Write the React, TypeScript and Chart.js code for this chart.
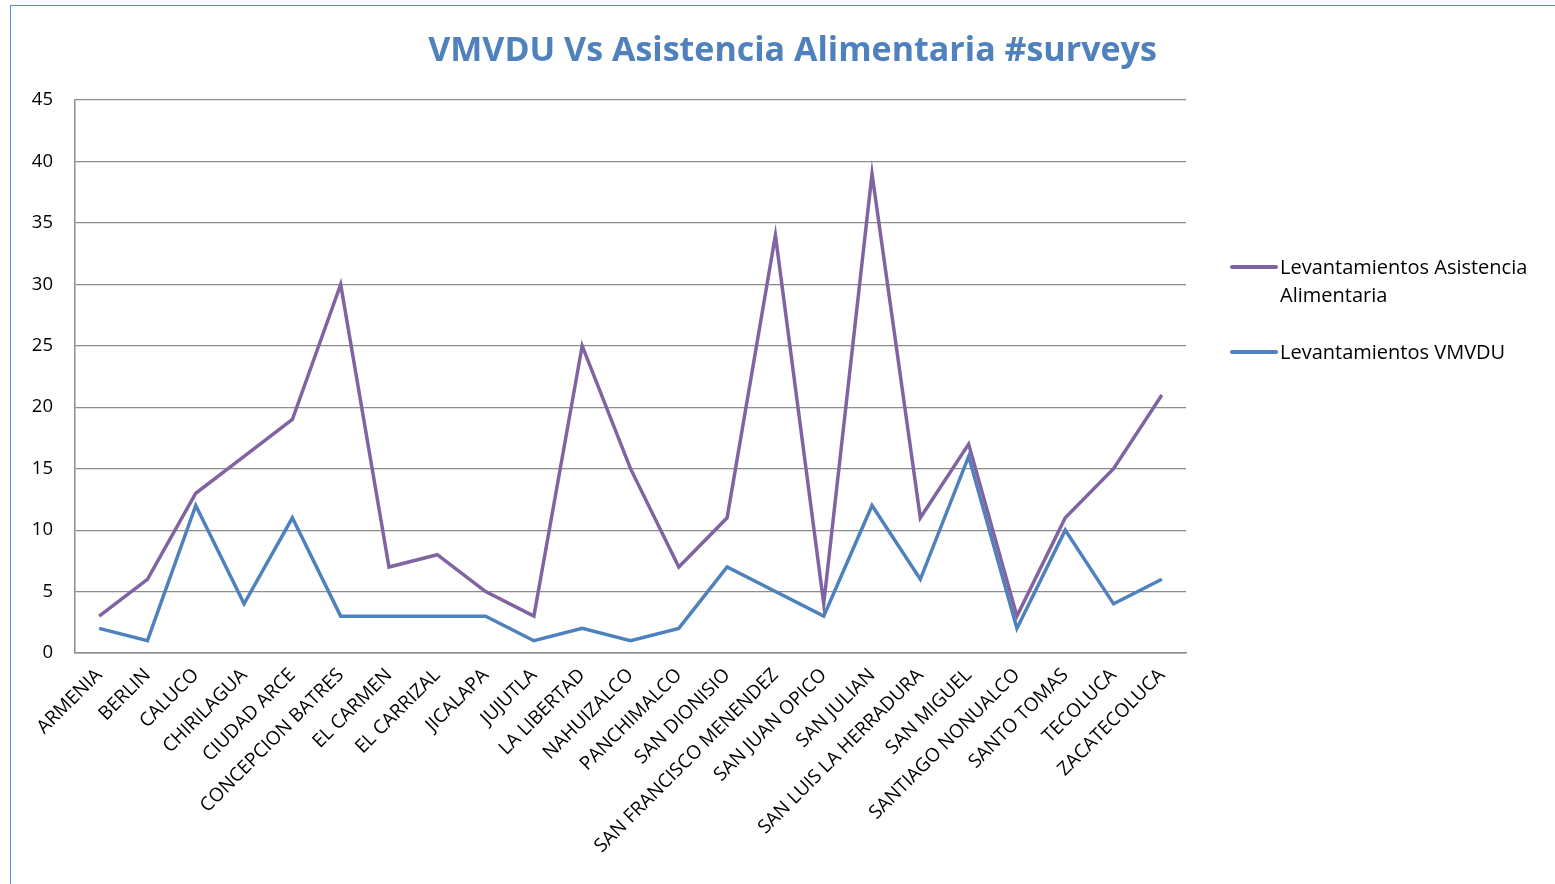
import React, { useEffect, useRef } from "react";
import { Chart, registerables } from "chart.js";

Chart.register(...registerables);

const TITLE = "VMVDU Vs Asistencia Alimentaria #surveys";
const categories = [
  "ARMENIA", "BERLIN", "CALUCO", "CHIRILAGUA", "CIUDAD ARCE", "CONCEPCION BATRES",
  "EL CARMEN", "EL CARRIZAL", "JICALAPA", "JUJUTLA", "LA LIBERTAD", "NAHUIZALCO",
  "PANCHIMALCO", "SAN DIONISIO", "SAN FRANCISCO MENENDEZ", "SAN JUAN OPICO",
  "SAN JULIAN", "SAN LUIS LA HERRADURA", "SAN MIGUEL", "SANTIAGO NONUALCO",
  "SANTO TOMAS", "TECOLUCA", "ZACATECOLUCA",
];
const asistenciaLabel = "Levantamientos Asistencia Alimentaria";
const asistenciaValues = [3, 6, 13, 16, 19, 30, 7, 8, 5, 3, 25, 15, 7, 11, 34, 4, 39, 11, 17, 3, 11, 15, 21];
const vmvduLabel = "Levantamientos VMVDU";
const vmvduValues = [2, 1, 12, 4, 11, 3, 3, 3, 3, 1, 2, 1, 2, 7, 5, 3, 12, 6, 16, 2, 10, 4, 6];
const yMin = 0;
const yMax = 45;
const yStep = 5;

const PURPLE = "#8064A2";
const BLUE = "#4F81BD";
const FONT = "'Open Sans', Lato, sans-serif";

export default function App() {
  const ref = useRef<HTMLCanvasElement | null>(null);

  useEffect(() => {
    document.body.style.margin = "0";
    const ctx = ref.current!;
    const chart = new Chart(ctx, {
      type: "line",
      data: {
        labels: categories,
        datasets: [
          {
            label: asistenciaLabel,
            data: asistenciaValues,
            borderColor: PURPLE,
            backgroundColor: PURPLE,
            borderWidth: 3.5,
            pointRadius: 0,
            tension: 0,
          },
          {
            label: vmvduLabel,
            data: vmvduValues,
            borderColor: BLUE,
            backgroundColor: BLUE,
            borderWidth: 3.5,
            pointRadius: 0,
            tension: 0,
          },
        ],
      },
      options: {
        animation: false,
        responsive: false,
        maintainAspectRatio: false,
        layout: { padding: { left: 10, right: 369, top: 100, bottom: 0 } },
        plugins: {
          legend: { display: false },
          title: { display: false },
          tooltip: { enabled: false },
        },
        scales: {
          x: {
            offset: true,
            grid: { display: false, drawTicks: false },
            border: { display: true, color: "#8c8c8c", width: 1.5 },
            ticks: {
              minRotation: 45,
              maxRotation: 45,
              autoSkip: false,
              padding: 11,
              color: "#000",
              font: { family: FONT, size: 19 },
            },
            afterFit: (s: any) => {
              s.height = 231;
            },
          },
          y: {
            min: yMin,
            max: yMax,
            grid: { color: "#8c8c8c", lineWidth: 1.2, drawTicks: false },
            border: { display: true, color: "#8c8c8c", width: 1.5 },
            ticks: {
              stepSize: yStep,
              padding: 22,
              color: "#000",
              font: { family: FONT, size: 18.5 },
            },
            afterFit: (s: any) => {
              s.width = 65;
            },
          },
        },
      },
    });
    return () => chart.destroy();
  }, []);

  const legendItems = [
    { label: asistenciaLabel, color: PURPLE, top: 253 },
    { label: vmvduLabel, color: BLUE, top: 338 },
  ];

  return (
    <div style={{ position: "absolute", left: 0, top: 0, width: 1555, height: 884, background: "#fff", overflow: "hidden", fontFamily: FONT }}>
      <div style={{ position: "absolute", left: 10, top: 5, width: 1600, height: 1000, borderLeft: "1.5px solid #5B8AC8", borderTop: "1.5px solid #5B8AC8" }} />
      <canvas ref={ref} width={1555} height={884} style={{ position: "absolute", left: 0, top: 0, width: 1555, height: 884 }} />
      <div style={{ position: "absolute", left: 0, width: 1585, top: 26, textAlign: "center", color: BLUE, fontWeight: 700, fontSize: 34, lineHeight: "44px" }}>
        {TITLE}
      </div>
      {legendItems.map((it) => (
        <div key={it.label} style={{ position: "absolute", left: 1230, top: it.top, width: 325, display: "flex", alignItems: "flex-start" }}>
          <div style={{ width: 48, height: 4, background: it.color, borderRadius: 2, marginTop: 12, flexShrink: 0 }} />
          <div style={{ marginLeft: 2, fontSize: 20, lineHeight: "28px", color: "#000", width: 265 }}>{it.label}</div>
        </div>
      ))}
    </div>
  );
}
